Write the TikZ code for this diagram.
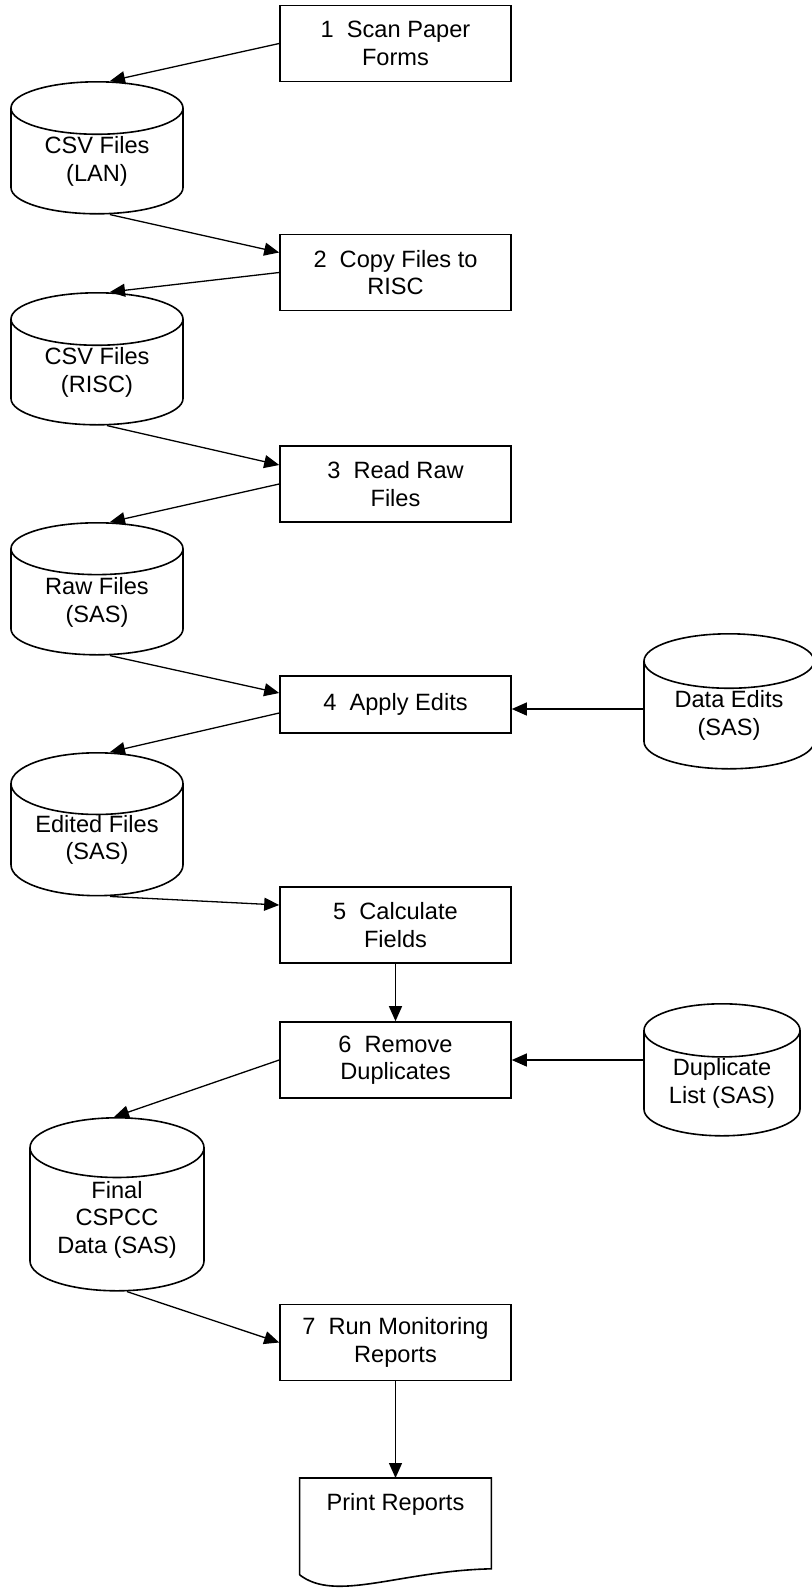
\documentclass[tikz,border=0pt]{standalone}
\usepackage{fontspec}
\setmainfont{Liberation Sans}
\usepackage{tikz}
\usetikzlibrary{arrows.meta}
\usetikzlibrary{shapes.geometric}

\begin{document}
\begin{tikzpicture}[x=0.5pt,y=-0.5pt,
    font=\fontsize{11.8}{13.8}\selectfont,
    proc/.style={draw,line width=0.8pt,minimum width=115.5pt,minimum height=38pt,align=center,inner sep=2pt},
    store/.style={draw,line width=0.8pt,cylinder,shape border rotate=90,aspect=0.5,anchor=north,
        minimum width=86pt,minimum height=66pt,align=center,inner sep=0pt},
    flow/.style={-{Triangle[length=7.5pt,width=6.5pt]},line width=0.65pt}]
    \useasboundingbox (0,0) rectangle (812,1590);
    % process steps
    \node[proc] (s1) at (395.5,43.5) {1~~Scan Paper\\Forms};
    \node[proc] (s2) at (395.5,272.5) {2~~Copy Files to\\RISC};
    \node[proc] (s3) at (395.5,484) {3~~Read Raw\\Files};
    \node[proc,minimum height=28.5pt] (s4) at (395.5,704.5) {4~~Apply Edits};
    \node[proc] (s5) at (395.5,925) {5~~Calculate\\Fields};
    \node[proc] (s6) at (395.5,1060) {6~~Remove\\Duplicates};
    \node[proc] (s7) at (395.5,1342.5) {7~~Run Monitoring\\Reports};
    % data stores
    \node[store] (lan) at (97,81) {CSV Files\\(LAN)};
    \node[store] (risc) at (97,292) {CSV Files\\(RISC)};
    \node[store] (raw) at (97,522) {Raw Files\\(SAS)};
    \node[store] (edited) at (97,752) {Edited Files\\(SAS)};
    \node[store,minimum width=87pt,minimum height=86.5pt] (final) at (117,1117) {Final\\CSPCC\\Data (SAS)};
    \node[store,minimum width=85pt,minimum height=67.5pt] (edits) at (729,633) {Data Edits\\(SAS)};
    \node[store,minimum width=78pt] (dups) at (722,1003) {Duplicate\\List (SAS)};
    % printed output
    \node[anchor=north,inner xsep=0pt,inner ysep=0pt,minimum width=95.5pt,
        text height=16pt,text depth=32pt] (prt) at (395.5,1478) {Print Reports};
    \draw[line width=0.8pt] (prt.south west) -- (prt.north west) -- (prt.north east)
        -- ([yshift=3pt]prt.south east)
        .. controls ([shift={(50pt,2pt)}]prt.south west) and ([shift={(18pt,-14pt)}]prt.south west) .. (prt.south west);
    % connectors
    \draw[flow] (s1.west) -- ([xshift=6.5pt]lan.north);
    \draw[flow] ([xshift=6.5pt]lan.south) -- ([yshift=10pt]s2.west);
    \draw[flow] (s2.west) -- ([xshift=6.5pt]risc.north);
    \draw[flow] ([xshift=5pt]risc.south) -- ([yshift=9.5pt]s3.west);
    \draw[flow] (s3.west) -- ([xshift=6.5pt]raw.north);
    \draw[flow] ([xshift=6.5pt]raw.south) -- ([yshift=5.75pt]s4.west);
    \draw[flow] ([yshift=-4.25pt]s4.west) -- ([xshift=6.5pt]edited.north);
    \draw[flow] ([xshift=6.5pt]edited.south) -- ([yshift=10pt]s5.west);
    \draw[flow] ([yshift=-2.25pt]s4.east -| edits.west) -- ([yshift=-2.25pt]s4.east);
    \draw[flow] (s5.south) -- (s6.north);
    \draw[flow] (s6.east -| dups.west) -- (s6.east);
    \draw[flow] (s6.west) -- ([xshift=-1.5pt]final.north);
    \draw[flow] ([xshift=5pt]final.south) -- (s7.west);
    \draw[flow] (s7.south) -- (prt.north);
\end{tikzpicture}
\end{document}
